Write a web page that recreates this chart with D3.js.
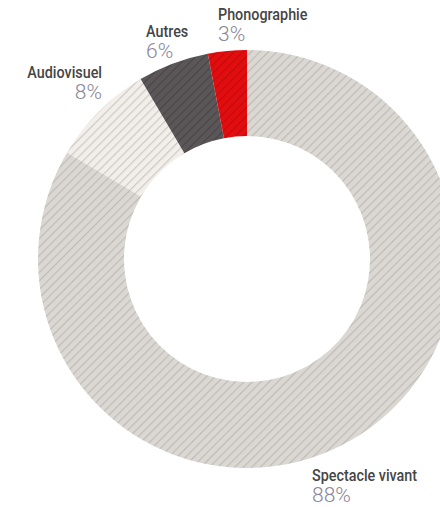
<!DOCTYPE html>
<html>
<head>
<meta charset="utf-8">
<script src="https://cdn.jsdelivr.net/npm/d3@7/dist/d3.min.js"></script>
<style>
  html, body { margin: 0; padding: 0; background: #fff; }
  svg { display: block; }
</style>
</head>
<body>
<svg id="chart" width="440" height="507"></svg>
<script>
// ---- data ----
const categories = ["Spectacle vivant", "Audiovisuel", "Autres", "Phonographie"];
const shares = [83.5, 8, 5.5, 3];            // arc sizes as drawn
const shareLabels = ["88%", "8%", "6%", "3%"]; // labels as printed
const fills = ["#dbd8d3", "#f2eee9", "#5b5658", "#e20d0f"];
const hatch = ["#bfbbb6", "#cdc9c4", "#4a4547", "#c40a0c"];

// ---- layout ----
const W = 440, H = 507;
const cx = 247, cy = 259, rOuter = 209, rInner = 123;
// label placement: [x, nameBaseline, anchor]
const labelPos = [
  [312, 481, "start"],
  [102, 78, "end"],
  [146, 37, "start"],
  [218, 20, "start"]
];

const svg = d3.select("#chart");
const defs = svg.append("defs");
fills.forEach((f, i) => {
  const p = defs.append("pattern")
    .attr("id", "hatch" + i)
    .attr("patternUnits", "userSpaceOnUse")
    .attr("width", 6).attr("height", 6)
    .attr("patternTransform", "rotate(45)");
  p.append("rect").attr("width", 6).attr("height", 6).attr("fill", f);
  p.append("line").attr("x1", 0.6).attr("y1", 0).attr("x2", 0.6).attr("y2", 6)
    .attr("stroke", hatch[i]).attr("stroke-width", 1.2);
});

const pie = d3.pie().sort(null).value(d => d)(shares);
const arc = d3.arc().innerRadius(rInner).outerRadius(rOuter);

const g = svg.append("g").attr("transform", `translate(${cx},${cy})`);
g.selectAll("path").data(pie).join("path")
  .attr("d", arc)
  .attr("fill", (d, i) => `url(#hatch${i})`);

const lbl = svg.append("g");
categories.forEach((c, i) => {
  const [x, y, anchor] = labelPos[i];
  lbl.append("text")
    .attr("transform", `translate(${x},${y}) scale(0.87,1)`)
    .attr("text-anchor", anchor)
    .attr("font-family", "Roboto, sans-serif")
    .attr("font-weight", 500)
    .attr("font-size", 16.5)
    .attr("fill", "#454545")
    .text(c);
  lbl.append("text")
    .attr("x", x).attr("y", y + 21)
    .attr("text-anchor", anchor)
    .attr("font-family", "Roboto, sans-serif")
    .attr("font-weight", 300)
    .attr("font-size", 21)
    .attr("fill", "#8a879a")
    .text(shareLabels[i]);
});
</script>
</body>
</html>
